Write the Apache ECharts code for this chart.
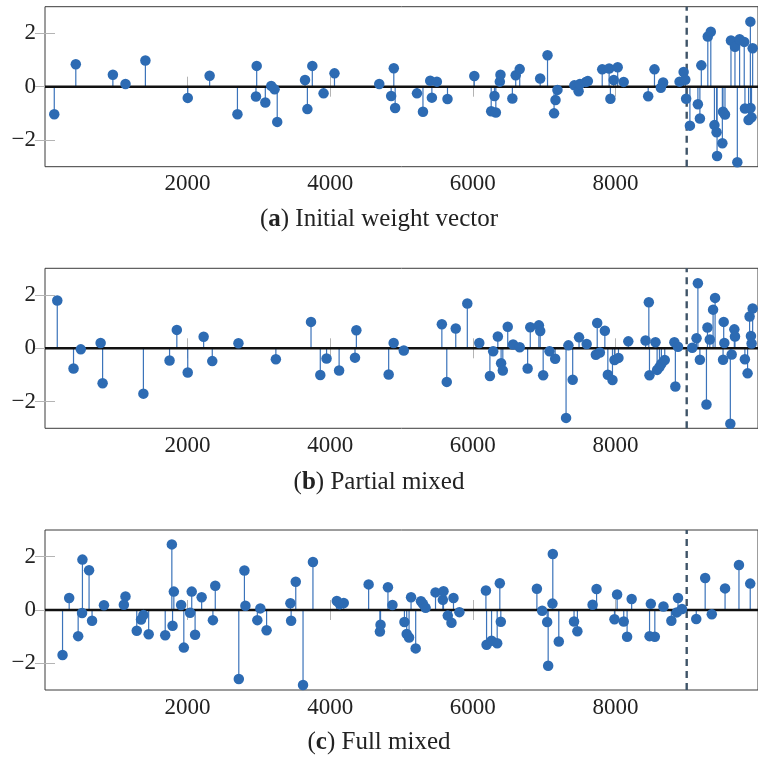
<!DOCTYPE html>
<html>
<head>
<meta charset="utf-8">
<script src="https://cdn.jsdelivr.net/npm/echarts@6/dist/echarts.min.js"></script>
<style>
  html, body { margin: 0; padding: 0; background: #fff; }
  #main { width: 758px; height: 760px; }
</style>
</head>
<body>
<div id="main"></div>
<script>
// (a) initial weight vector
var initX = [130, 432, 952, 1129, 1408, 2002, 2309, 2699, 2959, 2969, 3090, 3173, 3220, 3257, 3647, 3680, 3749, 3907, 4060,
  4688, 4855, 4892, 4911, 5217, 5301, 5403, 5426, 5496, 5645, 6021, 6258, 6304, 6323, 6379, 6388, 6555, 6602, 6658,
  6945, 7048, 7140, 7160, 7187, 7424, 7484, 7503, 7587, 7614, 7815, 7912, 7930, 7977, 8032, 8116, 8460, 8548, 8637,
  8669, 8900, 8957, 8980, 8992, 9045, 9157, 9185, 9205, 9296, 9338, 9389, 9419, 9426, 9500, 9509, 9537, 9621, 9677,
  9710, 9742, 9807, 9817, 9868, 9893, 9895, 9909, 9925];
var initY = [-1.03, 0.84, 0.45, 0.10, 0.98, -0.42, 0.41, -1.03, -0.37, 0.78, -0.59, 0.03, -0.10, -1.32, 0.25, -0.84, 0.78, -0.25, 0.50,
  0.10, -0.35, 0.69, -0.80, -0.25, -0.94, 0.22, -0.41, 0.19, -0.46, 0.40, -0.92, -0.35, -0.97, 0.19, 0.45, -0.44, 0.43, 0.66,
  0.31, 1.18, -1.00, -0.50, -0.12, 0.05, -0.17, 0.10, 0.18, 0.21, 0.65, 0.68, -0.45, 0.25, 0.73, 0.18, -0.36, 0.65, -0.04,
  0.16, 0.19, 0.55, 0.26, -0.45, -1.46, -0.66, -1.19, 0.80, 1.88, 2.06, -1.44, -1.71, -2.60, -2.12, -0.94, -1.04, 1.73, 1.50,
  -2.83, 1.78, 1.68, -0.82, -1.25, 2.44, -0.80, -1.15, 1.44];

// (b) partial mixed
var partX = [172, 400, 502, 780, 808, 1380, 1747, 1849, 2002, 2225, 2346, 2713, 3238, 3731, 3861, 3949, 4125, 4348, 4367,
  4820, 4890, 5032, 5566, 5635, 5761, 5923, 6091, 6240, 6286, 6351, 6397, 6421, 6490, 6565, 6658, 6769, 6806, 6927,
  6945, 6987, 7076, 7155, 7308, 7341, 7401, 7490, 7597, 7726, 7745, 7782, 7852, 7894, 7959, 7987, 8043, 8181, 8423,
  8469, 8478, 8562, 8585, 8618, 8645, 8692, 8827, 8841, 8878, 9078, 9138, 9157, 9185, 9277, 9291, 9324, 9370, 9398,
  9510, 9519, 9528, 9612, 9631, 9668, 9677, 9816, 9854, 9882, 9901, 9910, 9925];
var partY = [1.79, -0.76, -0.04, 0.20, -1.31, -1.70, -0.46, 0.69, -0.91, 0.43, -0.48, 0.19, -0.41, 0.99, -1.00, -0.38, -0.83, -0.35, 0.68,
  -0.98, 0.20, -0.08, 0.90, -1.26, 0.74, 1.68, 0.20, -1.04, -0.11, 0.44, -0.56, -0.83, 0.81, 0.14, 0.04, -0.76, 0.79, 0.86,
  0.65, -1.01, -0.11, -0.39, -2.61, 0.11, -1.18, 0.41, 0.16, -0.24, 0.95, -0.16, 0.66, -0.99, -1.19, -0.44, -0.36, 0.26, 0.29,
  1.73, -1.01, 0.23, -0.81, -0.70, -0.58, -0.44, 0.23, -1.43, 0.06, 0.02, 0.38, 2.44, -0.43, -2.11, 0.78, 0.33, 1.45, 1.89,
  -0.43, 0.99, 0.20, -2.83, -0.23, 0.71, 0.44, -0.41, -0.94, 1.19, 0.46, 0.18, 1.49];

// (c) full mixed
var fullX = [246, 339, 465, 520, 525, 618, 660, 827, 1106, 1129, 1287, 1347, 1380, 1454, 1686, 1779, 1789, 1807, 1909,
  1947, 2035, 2058, 2105, 2197, 2355, 2388, 2718, 2797, 2811, 2978, 3020, 3108, 3442, 3452, 3517, 3619, 3758, 4093,
  4135, 4190, 4539, 4697, 4706, 4810, 4873, 5041, 5073, 5106, 5134, 5199, 5273, 5301, 5338, 5477, 5580, 5589, 5649,
  5701, 5729, 5812, 6184, 6193, 6263, 6342, 6379, 6393, 6899, 6973, 7043, 7057, 7117, 7122, 7206, 7420, 7467, 7680,
  7736, 7987, 8024, 8117, 8164, 8228, 8479, 8497, 8553, 8674, 8785, 8860, 8878, 8934, 9134, 9259, 9352, 9538, 9733, 9891];
var fullY = [-1.69, 0.45, -0.98, -0.11, 1.89, 1.49, -0.40, 0.18, 0.20, 0.51, -0.78, -0.36, -0.19, -0.91, -0.95, 2.46, -0.59, 0.69, 0.19,
  -1.41, -0.10, 0.69, -0.93, 0.48, -0.38, 0.91, -2.59, 1.48, 0.16, -0.38, 0.06, -0.76, 0.25, -0.40, 1.06, -2.81, 1.80, 0.34,
  0.22, 0.26, 0.96, -0.81, -0.55, 0.85, 0.19, -0.45, -0.90, -1.03, 0.48, -1.44, 0.33, 0.23, 0.08, 0.66, 0.38, 0.70, -0.21,
  -0.48, 0.45, -0.08, 0.73, -1.30, -1.15, -1.25, 1.00, -0.44, 0.80, -0.03, -0.45, -2.09, 0.24, 2.10, -1.18, -0.43, -0.80, 0.20,
  0.79, -0.35, 0.58, -0.43, -1.00, 0.41, -0.98, 0.23, -1.00, 0.13, -0.40, -0.09, 0.45, 0.04, -0.34, 1.20, -0.16, 0.81, 1.69, 0.99];

var xTicks = [2000, 4000, 6000, 8000];
var yTicks = [-2, 0, 2];
var splitAt = 9000;
var captions = [['a', 'Initial weight vector'], ['b', 'Partial mixed'], ['c', 'Full mixed']];

var panels = [[initX, initY], [partX, partY], [fullX, fullY]];
var gridTops = [6.7, 268.3, 530];
var capTops = [207, 470, 730];

var blue = '#2d6bb3';
var stemBlue = '#3b73ba';
var tickGray = '#b4b4b4';
var serif = '"Liberation Serif", "DejaVu Serif", serif';

function fmt(v) { return v < 0 ? '\u2212' + (-v) : String(v); }

var myChart = echarts.init(document.getElementById('main'));

var grid = [], xAxis = [], yAxis = [], series = [], title = [];

for (let i = 0; i < panels.length; i++) {
  grid.push({ left: 45, top: gridTops[i], width: 717.5, height: 160, show: true,
    borderColor: '#3a3a3a', borderWidth: 1, backgroundColor: 'transparent' });

  // bottom and top x axes
  xAxis.push({ type: 'value', gridIndex: i, min: 0, max: 10000, position: 'bottom',
    splitLine: { show: false }, axisLine: { show: false },
    axisTick: { inside: true, length: 10, customValues: xTicks, lineStyle: { color: tickGray } },
    axisLabel: { customValues: xTicks, margin: 6, fontFamily: serif, fontSize: 23, color: '#222', formatter: fmt } });
  xAxis.push({ type: 'value', gridIndex: i, min: 0, max: 10000, position: 'top',
    splitLine: { show: false }, axisLine: { show: false },
    axisTick: { inside: true, length: 10, customValues: xTicks, lineStyle: { color: tickGray } },
    axisLabel: { show: false } });

  // left and right y axes
  yAxis.push({ type: 'value', gridIndex: i, min: -3, max: 3, position: 'left',
    splitLine: { show: false }, axisLine: { show: false },
    axisTick: { inside: true, length: 10, customValues: yTicks, lineStyle: { color: tickGray } },
    axisLabel: { customValues: yTicks, margin: 9, fontFamily: serif, fontSize: 23, color: '#222', formatter: fmt } });
  yAxis.push({ type: 'value', gridIndex: i, min: -3, max: 3, position: 'right',
    splitLine: { show: false }, axisLine: { show: false },
    axisTick: { inside: true, length: 10, customValues: yTicks, lineStyle: { color: tickGray } },
    axisLabel: { show: false } });

  var xs = panels[i][0], ys = panels[i][1];
  var pts = [];
  for (let k = 0; k < xs.length; k++) pts.push([xs[k], ys[k]]);

  // stems
  series.push({
    type: 'custom', xAxisIndex: 2 * i, yAxisIndex: 2 * i, z: 1, silent: true,
    data: pts,
    renderItem: function (params, api) {
      var base = api.coord([api.value(0), 0]);
      var tip = api.coord([api.value(0), api.value(1)]);
      return { type: 'line', shape: { x1: base[0], y1: base[1], x2: tip[0], y2: tip[1] },
        style: { stroke: stemBlue, lineWidth: 1.2 } };
    }
  });
  // zero line
  series.push({
    type: 'line', xAxisIndex: 2 * i, yAxisIndex: 2 * i, z: 2, silent: true, symbol: 'none',
    data: [[0, 0], [10000, 0]], lineStyle: { color: '#111', width: 2.6 }
  });
  // split marker
  series.push({
    type: 'line', xAxisIndex: 2 * i, yAxisIndex: 2 * i, z: 3, silent: true, symbol: 'none',
    data: [[splitAt, -3], [splitAt, 3]], lineStyle: { color: '#3f5468', width: 2.4, type: [7, 5] }
  });
  // markers
  series.push({
    type: 'scatter', xAxisIndex: 2 * i, yAxisIndex: 2 * i, z: 4, silent: true,
    data: pts, symbol: 'circle', symbolSize: 10.5, itemStyle: { color: blue, opacity: 1 }
  });

  title.push({
    left: 'center', top: capTops[i], padding: 0,
    text: '({b|' + captions[i][0] + '}) ' + captions[i][1],
    textStyle: { fontFamily: serif, fontSize: 25, fontWeight: 'normal', color: '#222',
      rich: { b: { fontFamily: serif, fontSize: 25, fontWeight: 'bold', color: '#222' } } }
  });
}

myChart.setOption({
  animation: false,
  title: title,
  grid: grid,
  xAxis: xAxis,
  yAxis: yAxis,
  series: series
});
</script>
</body>
</html>
